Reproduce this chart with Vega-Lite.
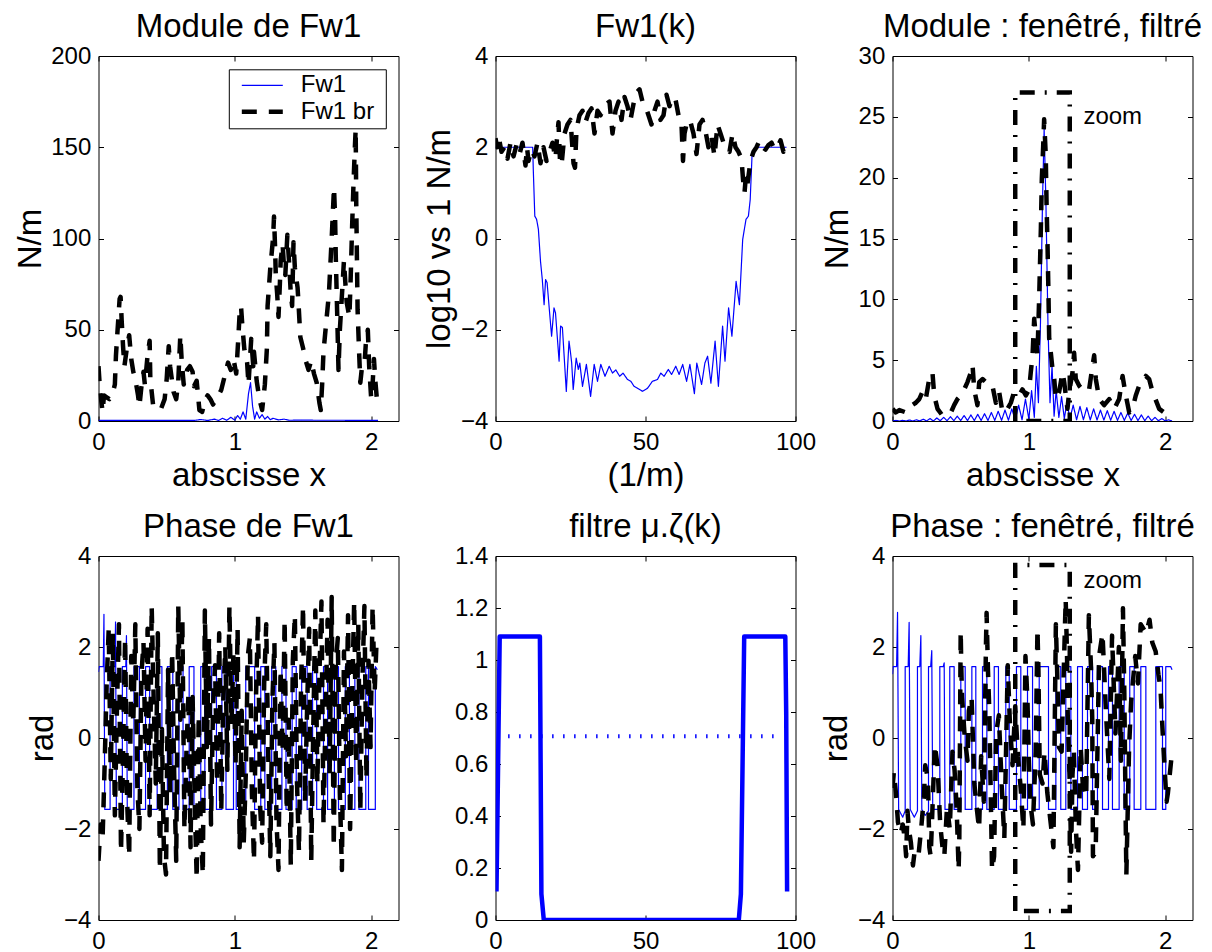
{
"$schema": "https://vega.github.io/schema/vega-lite/v6.json",
"background": "white",
"padding": {"left": 13.5, "top": 10, "right": 5, "bottom": 5},
"columns": 3,
"spacing": {"row": 135, "column": 97},
"bounds": "flush",
"config": {
 "font": "Liberation Sans",
 "view": {"stroke": "#000", "strokeWidth": 1},
 "title": {"font": "Liberation Sans", "fontSize": 33, "fontWeight": "normal", "color": "#000", "offset": 0.5, "baseline": "alphabetic", "anchor": "middle", "frame": "group"},
 "axis": {"domain": false, "grid": false, "ticks": true, "tickSize": -5, "tickColor": "#000", "tickWidth": 1, "labelFont": "Liberation Sans", "labelFontSize": 24, "labelColor": "#000", "labelOverlap": false, "labelFlush": false, "titleFont": "Liberation Sans", "titleFontSize": 33, "titleFontWeight": "normal", "titleColor": "#000"},
 "axisBottom": {"labelPadding": 14.5, "titlePadding": 5},
 "axisLeft": {"labelPadding": 12.7, "titlePadding": 3.5},
 "axisTop": {"labels": false},
 "axisRight": {"labels": false}
},
"datasets": {
 "p1": [
  {"s":"Fw1","x":0,"y":0.3},{"s":"Fw1","x":0.7,"y":0.3},{"s":"Fw1","x":0.75,"y":0.8},{"s":"Fw1","x":0.8,"y":0.3},{"s":"Fw1","x":0.85,"y":1},{"s":"Fw1","x":0.88,"y":0.3},{"s":"Fw1","x":0.91,"y":1.5},{"s":"Fw1","x":0.94,"y":0.4},{"s":"Fw1","x":0.97,"y":2},{"s":"Fw1","x":1.0,"y":0.5},{"s":"Fw1","x":1.02,"y":3},{"s":"Fw1","x":1.04,"y":1},{"s":"Fw1","x":1.06,"y":5},{"s":"Fw1","x":1.08,"y":1},{"s":"Fw1","x":1.1,"y":15},{"s":"Fw1","x":1.115,"y":21},{"s":"Fw1","x":1.13,"y":8},{"s":"Fw1","x":1.145,"y":1},{"s":"Fw1","x":1.16,"y":5},{"s":"Fw1","x":1.18,"y":1.5},{"s":"Fw1","x":1.2,"y":3.5},{"s":"Fw1","x":1.22,"y":1},{"s":"Fw1","x":1.24,"y":2.5},{"s":"Fw1","x":1.26,"y":0.7},{"s":"Fw1","x":1.28,"y":1.5},{"s":"Fw1","x":1.32,"y":0.6},{"s":"Fw1","x":1.36,"y":1},{"s":"Fw1","x":1.4,"y":0.4},{"s":"Fw1","x":1.5,"y":0.5},{"s":"Fw1","x":1.6,"y":0.4},{"s":"Fw1","x":1.8,"y":0.4},{"s":"Fw1","x":2.05,"y":0.3},
  {"s":"Fw1 br","x":0,"y":30},{"s":"Fw1 br","x":0.012,"y":16},{"s":"Fw1 br","x":0.03,"y":5},{"s":"Fw1 br","x":0.04,"y":14},{"s":"Fw1 br","x":0.06,"y":13},{"s":"Fw1 br","x":0.08,"y":12},{"s":"Fw1 br","x":0.1,"y":14},{"s":"Fw1 br","x":0.12,"y":20},{"s":"Fw1 br","x":0.128,"y":36},{"s":"Fw1 br","x":0.14,"y":50},{"s":"Fw1 br","x":0.155,"y":67},{"s":"Fw1 br","x":0.162,"y":68},{"s":"Fw1 br","x":0.17,"y":55},{"s":"Fw1 br","x":0.18,"y":41},{"s":"Fw1 br","x":0.19,"y":30},{"s":"Fw1 br","x":0.21,"y":41},{"s":"Fw1 br","x":0.225,"y":47},{"s":"Fw1 br","x":0.24,"y":34},{"s":"Fw1 br","x":0.255,"y":27},{"s":"Fw1 br","x":0.27,"y":23},{"s":"Fw1 br","x":0.29,"y":14},{"s":"Fw1 br","x":0.3,"y":8},{"s":"Fw1 br","x":0.315,"y":19},{"s":"Fw1 br","x":0.33,"y":27},{"s":"Fw1 br","x":0.34,"y":20},{"s":"Fw1 br","x":0.36,"y":36},{"s":"Fw1 br","x":0.375,"y":44},{"s":"Fw1 br","x":0.38,"y":23},{"s":"Fw1 br","x":0.4,"y":9},{"s":"Fw1 br","x":0.43,"y":6},{"s":"Fw1 br","x":0.46,"y":7},{"s":"Fw1 br","x":0.485,"y":12},{"s":"Fw1 br","x":0.5,"y":23},{"s":"Fw1 br","x":0.515,"y":41},{"s":"Fw1 br","x":0.525,"y":30},{"s":"Fw1 br","x":0.55,"y":16},{"s":"Fw1 br","x":0.57,"y":12},{"s":"Fw1 br","x":0.585,"y":22},{"s":"Fw1 br","x":0.6,"y":47},{"s":"Fw1 br","x":0.61,"y":33},{"s":"Fw1 br","x":0.625,"y":20},{"s":"Fw1 br","x":0.65,"y":28},{"s":"Fw1 br","x":0.67,"y":30},{"s":"Fw1 br","x":0.69,"y":27},{"s":"Fw1 br","x":0.7,"y":19},{"s":"Fw1 br","x":0.72,"y":22},{"s":"Fw1 br","x":0.74,"y":6},{"s":"Fw1 br","x":0.76,"y":5},{"s":"Fw1 br","x":0.785,"y":12},{"s":"Fw1 br","x":0.8,"y":14},{"s":"Fw1 br","x":0.82,"y":12},{"s":"Fw1 br","x":0.84,"y":9},{"s":"Fw1 br","x":0.86,"y":12},{"s":"Fw1 br","x":0.88,"y":14},{"s":"Fw1 br","x":0.9,"y":17},{"s":"Fw1 br","x":0.92,"y":23},{"s":"Fw1 br","x":0.95,"y":32},{"s":"Fw1 br","x":0.97,"y":28},{"s":"Fw1 br","x":0.99,"y":34},{"s":"Fw1 br","x":1.01,"y":26},{"s":"Fw1 br","x":1.025,"y":45},{"s":"Fw1 br","x":1.035,"y":59},{"s":"Fw1 br","x":1.045,"y":63},{"s":"Fw1 br","x":1.055,"y":52},{"s":"Fw1 br","x":1.07,"y":39},{"s":"Fw1 br","x":1.09,"y":32},{"s":"Fw1 br","x":1.1,"y":20},{"s":"Fw1 br","x":1.12,"y":45},{"s":"Fw1 br","x":1.135,"y":30},{"s":"Fw1 br","x":1.14,"y":38},{"s":"Fw1 br","x":1.16,"y":22},{"s":"Fw1 br","x":1.18,"y":12},{"s":"Fw1 br","x":1.2,"y":6},{"s":"Fw1 br","x":1.22,"y":20},{"s":"Fw1 br","x":1.235,"y":40},{"s":"Fw1 br","x":1.24,"y":63},{"s":"Fw1 br","x":1.26,"y":84},{"s":"Fw1 br","x":1.28,"y":100},{"s":"Fw1 br","x":1.287,"y":112},{"s":"Fw1 br","x":1.295,"y":95},{"s":"Fw1 br","x":1.3,"y":80},{"s":"Fw1 br","x":1.31,"y":70},{"s":"Fw1 br","x":1.32,"y":57},{"s":"Fw1 br","x":1.33,"y":75},{"s":"Fw1 br","x":1.336,"y":88},{"s":"Fw1 br","x":1.35,"y":97},{"s":"Fw1 br","x":1.36,"y":85},{"s":"Fw1 br","x":1.37,"y":80},{"s":"Fw1 br","x":1.385,"y":102},{"s":"Fw1 br","x":1.395,"y":90},{"s":"Fw1 br","x":1.4,"y":84},{"s":"Fw1 br","x":1.41,"y":70},{"s":"Fw1 br","x":1.42,"y":63},{"s":"Fw1 br","x":1.43,"y":98},{"s":"Fw1 br","x":1.44,"y":84},{"s":"Fw1 br","x":1.46,"y":73},{"s":"Fw1 br","x":1.47,"y":60},{"s":"Fw1 br","x":1.48,"y":46},{"s":"Fw1 br","x":1.5,"y":40},{"s":"Fw1 br","x":1.52,"y":33},{"s":"Fw1 br","x":1.54,"y":28},{"s":"Fw1 br","x":1.56,"y":33},{"s":"Fw1 br","x":1.58,"y":26},{"s":"Fw1 br","x":1.6,"y":21},{"s":"Fw1 br","x":1.62,"y":10},{"s":"Fw1 br","x":1.63,"y":6},{"s":"Fw1 br","x":1.64,"y":20},{"s":"Fw1 br","x":1.65,"y":38},{"s":"Fw1 br","x":1.67,"y":54},{"s":"Fw1 br","x":1.69,"y":70},{"s":"Fw1 br","x":1.71,"y":100},{"s":"Fw1 br","x":1.727,"y":128},{"s":"Fw1 br","x":1.735,"y":112},{"s":"Fw1 br","x":1.74,"y":90},{"s":"Fw1 br","x":1.75,"y":60},{"s":"Fw1 br","x":1.76,"y":28},{"s":"Fw1 br","x":1.77,"y":50},{"s":"Fw1 br","x":1.79,"y":75},{"s":"Fw1 br","x":1.8,"y":88},{"s":"Fw1 br","x":1.81,"y":76},{"s":"Fw1 br","x":1.82,"y":65},{"s":"Fw1 br","x":1.84,"y":57},{"s":"Fw1 br","x":1.85,"y":80},{"s":"Fw1 br","x":1.86,"y":107},{"s":"Fw1 br","x":1.87,"y":130},{"s":"Fw1 br","x":1.88,"y":150},{"s":"Fw1 br","x":1.886,"y":160},{"s":"Fw1 br","x":1.89,"y":120},{"s":"Fw1 br","x":1.895,"y":90},{"s":"Fw1 br","x":1.9,"y":61},{"s":"Fw1 br","x":1.91,"y":40},{"s":"Fw1 br","x":1.92,"y":21},{"s":"Fw1 br","x":1.93,"y":28},{"s":"Fw1 br","x":1.95,"y":30},{"s":"Fw1 br","x":1.96,"y":42},{"s":"Fw1 br","x":1.975,"y":50},{"s":"Fw1 br","x":1.985,"y":30},{"s":"Fw1 br","x":2.0,"y":12},{"s":"Fw1 br","x":2.01,"y":20},{"s":"Fw1 br","x":2.02,"y":34},{"s":"Fw1 br","x":2.03,"y":22},{"s":"Fw1 br","x":2.045,"y":9}
 ],
 "p2": [
  {"s":"Fw1","x":0,"y":2.0},{"s":"Fw1","x":12.4,"y":2.0},{"s":"Fw1","x":12.6,"y":1.5},{"s":"Fw1","x":13.1,"y":0.49},{"s":"Fw1","x":13.7,"y":0.42},{"s":"Fw1","x":14.3,"y":0.2},{"s":"Fw1","x":15.0,"y":-0.5},{"s":"Fw1","x":15.6,"y":-0.9},{"s":"Fw1","x":16.2,"y":-1.45},{"s":"Fw1","x":16.7,"y":-0.9},{"s":"Fw1","x":17.2,"y":-0.97},{"s":"Fw1","x":18.0,"y":-1.6},{"s":"Fw1","x":18.7,"y":-2.14},{"s":"Fw1","x":19.5,"y":-1.52},{"s":"Fw1","x":20.0,"y":-1.63},{"s":"Fw1","x":21.2,"y":-2.69},{"s":"Fw1","x":21.7,"y":-1.92},{"s":"Fw1","x":22.3,"y":-1.95},{"s":"Fw1","x":23.6,"y":-3.35},{"s":"Fw1","x":24.5,"y":-2.25},{"s":"Fw1","x":25.0,"y":-2.5},{"s":"Fw1","x":25.4,"y":-2.73},{"s":"Fw1","x":25.9,"y":-3.31},{"s":"Fw1","x":26.9,"y":-2.62},{"s":"Fw1","x":27.6,"y":-2.87},{"s":"Fw1","x":28.1,"y":-2.73},{"s":"Fw1","x":29.0,"y":-3.24},{"s":"Fw1","x":30.3,"y":-2.76},{"s":"Fw1","x":31.7,"y":-3.46},{"s":"Fw1","x":32.9,"y":-2.76},{"s":"Fw1","x":34.0,"y":-3.13},{"s":"Fw1","x":35.1,"y":-2.76},{"s":"Fw1","x":36.5,"y":-3.02},{"s":"Fw1","x":37.9,"y":-2.8},{"s":"Fw1","x":39.0,"y":-2.95},{"s":"Fw1","x":40.1,"y":-2.88},{"s":"Fw1","x":41.4,"y":-3.02},{"s":"Fw1","x":42.5,"y":-2.95},{"s":"Fw1","x":44.0,"y":-3.09},{"s":"Fw1","x":45.1,"y":-3.13},{"s":"Fw1","x":46.2,"y":-3.24},{"s":"Fw1","x":47.3,"y":-3.28},{"s":"Fw1","x":49.0,"y":-3.35},{"s":"Fw1","x":50.7,"y":-3.28},{"s":"Fw1","x":52.3,"y":-3.13},{"s":"Fw1","x":54.0,"y":-3.09},{"s":"Fw1","x":55.1,"y":-2.95},{"s":"Fw1","x":56.2,"y":-3.02},{"s":"Fw1","x":57.6,"y":-2.87},{"s":"Fw1","x":58.7,"y":-2.98},{"s":"Fw1","x":60.1,"y":-2.8},{"s":"Fw1","x":61.2,"y":-2.98},{"s":"Fw1","x":62.4,"y":-2.76},{"s":"Fw1","x":63.7,"y":-3.13},{"s":"Fw1","x":64.8,"y":-2.76},{"s":"Fw1","x":66.3,"y":-3.4},{"s":"Fw1","x":67.1,"y":-2.73},{"s":"Fw1","x":68.7,"y":-3.2},{"s":"Fw1","x":69.8,"y":-2.73},{"s":"Fw1","x":70.7,"y":-2.58},{"s":"Fw1","x":71.8,"y":-3.17},{"s":"Fw1","x":73.2,"y":-2.25},{"s":"Fw1","x":74.3,"y":-3.24},{"s":"Fw1","x":75.7,"y":-1.92},{"s":"Fw1","x":76.5,"y":-2.69},{"s":"Fw1","x":77.7,"y":-1.52},{"s":"Fw1","x":78.8,"y":-2.14},{"s":"Fw1","x":80.2,"y":-0.94},{"s":"Fw1","x":81.3,"y":-1.45},{"s":"Fw1","x":82.4,"y":-0.02},{"s":"Fw1","x":83.5,"y":0.42},{"s":"Fw1","x":84.3,"y":0.49},{"s":"Fw1","x":84.9,"y":0.85},{"s":"Fw1","x":85.5,"y":1.8},{"s":"Fw1","x":86.5,"y":2.0},{"s":"Fw1","x":97,"y":2.0},
  {"s":"Fw1 br","x":0,"y":2.2},{"s":"Fw1 br","x":0.5,"y":2.0},{"s":"Fw1 br","x":1,"y":2.25},{"s":"Fw1 br","x":2,"y":1.9},{"s":"Fw1 br","x":3,"y":2.0},{"s":"Fw1 br","x":4,"y":1.75},{"s":"Fw1 br","x":5,"y":2.1},{"s":"Fw1 br","x":6,"y":1.8},{"s":"Fw1 br","x":7,"y":2.05},{"s":"Fw1 br","x":8,"y":1.85},{"s":"Fw1 br","x":9,"y":2.1},{"s":"Fw1 br","x":10,"y":1.6},{"s":"Fw1 br","x":10.5,"y":2.0},{"s":"Fw1 br","x":11,"y":1.7},{"s":"Fw1 br","x":12,"y":1.95},{"s":"Fw1 br","x":13,"y":1.8},{"s":"Fw1 br","x":14,"y":2.1},{"s":"Fw1 br","x":15,"y":1.65},{"s":"Fw1 br","x":16,"y":2.0},{"s":"Fw1 br","x":17,"y":1.7},{"s":"Fw1 br","x":18,"y":1.9},{"s":"Fw1 br","x":19,"y":2.1},{"s":"Fw1 br","x":20,"y":1.75},{"s":"Fw1 br","x":20.5,"y":2.2},{"s":"Fw1 br","x":21,"y":2.55},{"s":"Fw1 br","x":21.5,"y":1.7},{"s":"Fw1 br","x":22,"y":1.6},{"s":"Fw1 br","x":23,"y":2.3},{"s":"Fw1 br","x":24,"y":2.5},{"s":"Fw1 br","x":25,"y":2.6},{"s":"Fw1 br","x":26,"y":1.65},{"s":"Fw1 br","x":26.5,"y":1.55},{"s":"Fw1 br","x":27,"y":2.4},{"s":"Fw1 br","x":28,"y":2.7},{"s":"Fw1 br","x":29,"y":2.8},{"s":"Fw1 br","x":30,"y":2.55},{"s":"Fw1 br","x":31,"y":2.75},{"s":"Fw1 br","x":32,"y":2.85},{"s":"Fw1 br","x":33,"y":2.3},{"s":"Fw1 br","x":34,"y":2.8},{"s":"Fw1 br","x":35,"y":2.7},{"s":"Fw1 br","x":36,"y":2.85},{"s":"Fw1 br","x":37,"y":2.95},{"s":"Fw1 br","x":38,"y":3.0},{"s":"Fw1 br","x":39,"y":2.3},{"s":"Fw1 br","x":40,"y":2.8},{"s":"Fw1 br","x":41,"y":3.0},{"s":"Fw1 br","x":42,"y":2.6},{"s":"Fw1 br","x":43,"y":3.1},{"s":"Fw1 br","x":44,"y":2.9},{"s":"Fw1 br","x":45,"y":2.6},{"s":"Fw1 br","x":46,"y":2.95},{"s":"Fw1 br","x":47,"y":3.2},{"s":"Fw1 br","x":48,"y":3.27},{"s":"Fw1 br","x":49,"y":3.0},{"s":"Fw1 br","x":50,"y":2.9},{"s":"Fw1 br","x":51,"y":2.7},{"s":"Fw1 br","x":52,"y":2.5},{"s":"Fw1 br","x":53,"y":2.8},{"s":"Fw1 br","x":54,"y":3.0},{"s":"Fw1 br","x":55,"y":2.6},{"s":"Fw1 br","x":56,"y":2.7},{"s":"Fw1 br","x":57,"y":3.15},{"s":"Fw1 br","x":58,"y":2.9},{"s":"Fw1 br","x":59,"y":3.1},{"s":"Fw1 br","x":60,"y":3.05},{"s":"Fw1 br","x":61,"y":2.7},{"s":"Fw1 br","x":62,"y":2.5},{"s":"Fw1 br","x":62.5,"y":1.7},{"s":"Fw1 br","x":63,"y":2.3},{"s":"Fw1 br","x":64,"y":2.6},{"s":"Fw1 br","x":65,"y":2.55},{"s":"Fw1 br","x":66,"y":2.3},{"s":"Fw1 br","x":67,"y":1.85},{"s":"Fw1 br","x":68,"y":2.5},{"s":"Fw1 br","x":69,"y":2.6},{"s":"Fw1 br","x":70,"y":2.35},{"s":"Fw1 br","x":71,"y":2.0},{"s":"Fw1 br","x":72,"y":2.25},{"s":"Fw1 br","x":73,"y":1.8},{"s":"Fw1 br","x":74,"y":2.5},{"s":"Fw1 br","x":75,"y":2.3},{"s":"Fw1 br","x":76,"y":2.1},{"s":"Fw1 br","x":77,"y":2.0},{"s":"Fw1 br","x":78,"y":1.9},{"s":"Fw1 br","x":79,"y":2.3},{"s":"Fw1 br","x":80,"y":2.0},{"s":"Fw1 br","x":81,"y":1.9},{"s":"Fw1 br","x":82,"y":1.75},{"s":"Fw1 br","x":82.5,"y":1.3},{"s":"Fw1 br","x":83,"y":1.0},{"s":"Fw1 br","x":83.5,"y":1.4},{"s":"Fw1 br","x":84,"y":1.2},{"s":"Fw1 br","x":85,"y":1.7},{"s":"Fw1 br","x":86,"y":1.9},{"s":"Fw1 br","x":87,"y":2.0},{"s":"Fw1 br","x":88,"y":2.15},{"s":"Fw1 br","x":89,"y":2.0},{"s":"Fw1 br","x":90,"y":1.95},{"s":"Fw1 br","x":91,"y":2.05},{"s":"Fw1 br","x":92,"y":2.1},{"s":"Fw1 br","x":93,"y":1.95},{"s":"Fw1 br","x":94,"y":2.0},{"s":"Fw1 br","x":95,"y":2.15},{"s":"Fw1 br","x":96,"y":1.9},{"s":"Fw1 br","x":97,"y":2.05}
 ],
 "p3": [
  {"s":"Fw1","x":0,"y":0},{"s":"Fw1","x":0.025,"y":0.05},{"s":"Fw1","x":0.05,"y":0},{"s":"Fw1","x":0.075,"y":0.05},{"s":"Fw1","x":0.1,"y":0},{"s":"Fw1","x":0.125,"y":0.08},{"s":"Fw1","x":0.15,"y":0},{"s":"Fw1","x":0.175,"y":0.1},{"s":"Fw1","x":0.2,"y":0},{"s":"Fw1","x":0.225,"y":0.15},{"s":"Fw1","x":0.25,"y":0},{"s":"Fw1","x":0.275,"y":0.2},{"s":"Fw1","x":0.3,"y":0},{"s":"Fw1","x":0.325,"y":0.25},{"s":"Fw1","x":0.35,"y":0.02},{"s":"Fw1","x":0.375,"y":0.3},{"s":"Fw1","x":0.4,"y":0.02},{"s":"Fw1","x":0.425,"y":0.35},{"s":"Fw1","x":0.45,"y":0.02},{"s":"Fw1","x":0.475,"y":0.4},{"s":"Fw1","x":0.5,"y":0.03},{"s":"Fw1","x":0.525,"y":0.45},{"s":"Fw1","x":0.55,"y":0.03},{"s":"Fw1","x":0.575,"y":0.5},{"s":"Fw1","x":0.6,"y":0.03},{"s":"Fw1","x":0.625,"y":0.55},{"s":"Fw1","x":0.65,"y":0.04},{"s":"Fw1","x":0.675,"y":0.6},{"s":"Fw1","x":0.7,"y":0.04},{"s":"Fw1","x":0.725,"y":0.7},{"s":"Fw1","x":0.75,"y":0.05},{"s":"Fw1","x":0.775,"y":0.8},{"s":"Fw1","x":0.8,"y":0.05},{"s":"Fw1","x":0.825,"y":0.9},{"s":"Fw1","x":0.85,"y":0.06},{"s":"Fw1","x":0.875,"y":1.0},{"s":"Fw1","x":0.9,"y":0.07},{"s":"Fw1","x":0.925,"y":1.3},{"s":"Fw1","x":0.95,"y":0.1},{"s":"Fw1","x":0.975,"y":1.8},{"s":"Fw1","x":1.0,"y":0.15},{"s":"Fw1","x":1.02,"y":2.5},{"s":"Fw1","x":1.04,"y":0.3},{"s":"Fw1","x":1.055,"y":4.5},{"s":"Fw1","x":1.07,"y":1.5},{"s":"Fw1","x":1.085,"y":8},{"s":"Fw1","x":1.1,"y":18},{"s":"Fw1","x":1.112,"y":24},{"s":"Fw1","x":1.125,"y":18},{"s":"Fw1","x":1.14,"y":8},{"s":"Fw1","x":1.155,"y":1.5},{"s":"Fw1","x":1.17,"y":4.5},{"s":"Fw1","x":1.185,"y":0.4},{"s":"Fw1","x":1.2,"y":2.5},{"s":"Fw1","x":1.22,"y":0.3},{"s":"Fw1","x":1.24,"y":2.0},{"s":"Fw1","x":1.26,"y":0.2},{"s":"Fw1","x":1.28,"y":1.6},{"s":"Fw1","x":1.3,"y":0.15},{"s":"Fw1","x":1.325,"y":1.3},{"s":"Fw1","x":1.35,"y":0.1},{"s":"Fw1","x":1.375,"y":1.2},{"s":"Fw1","x":1.4,"y":0.1},{"s":"Fw1","x":1.425,"y":1.1},{"s":"Fw1","x":1.45,"y":0.08},{"s":"Fw1","x":1.475,"y":1.0},{"s":"Fw1","x":1.5,"y":0.08},{"s":"Fw1","x":1.525,"y":0.9},{"s":"Fw1","x":1.55,"y":0.07},{"s":"Fw1","x":1.575,"y":0.85},{"s":"Fw1","x":1.6,"y":0.06},{"s":"Fw1","x":1.625,"y":0.8},{"s":"Fw1","x":1.65,"y":0.05},{"s":"Fw1","x":1.675,"y":0.7},{"s":"Fw1","x":1.7,"y":0.05},{"s":"Fw1","x":1.725,"y":0.65},{"s":"Fw1","x":1.75,"y":0.04},{"s":"Fw1","x":1.775,"y":0.55},{"s":"Fw1","x":1.8,"y":0.03},{"s":"Fw1","x":1.825,"y":0.5},{"s":"Fw1","x":1.85,"y":0.03},{"s":"Fw1","x":1.875,"y":0.4},{"s":"Fw1","x":1.9,"y":0.02},{"s":"Fw1","x":1.925,"y":0.3},{"s":"Fw1","x":1.95,"y":0.02},{"s":"Fw1","x":1.975,"y":0.2},{"s":"Fw1","x":2.0,"y":0.01},{"s":"Fw1","x":2.025,"y":0.1},{"s":"Fw1","x":2.05,"y":0},
  {"s":"Fw1 br","x":0,"y":1.0},{"s":"Fw1 br","x":0.024,"y":0.7},{"s":"Fw1 br","x":0.05,"y":0.9},{"s":"Fw1 br","x":0.1,"y":0.7},{"s":"Fw1 br","x":0.13,"y":1.2},{"s":"Fw1 br","x":0.171,"y":1.5},{"s":"Fw1 br","x":0.196,"y":1.8},{"s":"Fw1 br","x":0.22,"y":2.4},{"s":"Fw1 br","x":0.244,"y":1.8},{"s":"Fw1 br","x":0.269,"y":3.45},{"s":"Fw1 br","x":0.293,"y":4.0},{"s":"Fw1 br","x":0.306,"y":2.1},{"s":"Fw1 br","x":0.33,"y":1.0},{"s":"Fw1 br","x":0.367,"y":0.44},{"s":"Fw1 br","x":0.4,"y":0.6},{"s":"Fw1 br","x":0.428,"y":0.7},{"s":"Fw1 br","x":0.452,"y":1.3},{"s":"Fw1 br","x":0.476,"y":1.8},{"s":"Fw1 br","x":0.501,"y":2.1},{"s":"Fw1 br","x":0.526,"y":2.6},{"s":"Fw1 br","x":0.55,"y":3.2},{"s":"Fw1 br","x":0.575,"y":4.0},{"s":"Fw1 br","x":0.587,"y":4.6},{"s":"Fw1 br","x":0.599,"y":2.6},{"s":"Fw1 br","x":0.623,"y":1.3},{"s":"Fw1 br","x":0.636,"y":3.2},{"s":"Fw1 br","x":0.66,"y":3.45},{"s":"Fw1 br","x":0.685,"y":3.2},{"s":"Fw1 br","x":0.709,"y":3.2},{"s":"Fw1 br","x":0.733,"y":2.9},{"s":"Fw1 br","x":0.758,"y":1.5},{"s":"Fw1 br","x":0.782,"y":2.4},{"s":"Fw1 br","x":0.807,"y":0.7},{"s":"Fw1 br","x":0.843,"y":1.0},{"s":"Fw1 br","x":0.868,"y":1.5},{"s":"Fw1 br","x":0.892,"y":2.4},{"s":"Fw1 br","x":0.929,"y":2.1},{"s":"Fw1 br","x":0.953,"y":2.6},{"s":"Fw1 br","x":0.978,"y":2.1},{"s":"Fw1 br","x":1.002,"y":2.6},{"s":"Fw1 br","x":1.014,"y":4.0},{"s":"Fw1 br","x":1.027,"y":5.4},{"s":"Fw1 br","x":1.039,"y":8.4},{"s":"Fw1 br","x":1.051,"y":7.0},{"s":"Fw1 br","x":1.063,"y":5.4},{"s":"Fw1 br","x":1.076,"y":10.3},{"s":"Fw1 br","x":1.088,"y":15.8},{"s":"Fw1 br","x":1.095,"y":19.9},{"s":"Fw1 br","x":1.105,"y":22.6},{"s":"Fw1 br","x":1.112,"y":24.8},{"s":"Fw1 br","x":1.124,"y":21.8},{"s":"Fw1 br","x":1.13,"y":17.7},{"s":"Fw1 br","x":1.137,"y":14.4},{"s":"Fw1 br","x":1.144,"y":10.3},{"s":"Fw1 br","x":1.149,"y":6.8},{"s":"Fw1 br","x":1.161,"y":5.6},{"s":"Fw1 br","x":1.173,"y":4.3},{"s":"Fw1 br","x":1.186,"y":3.45},{"s":"Fw1 br","x":1.198,"y":1.8},{"s":"Fw1 br","x":1.222,"y":2.4},{"s":"Fw1 br","x":1.247,"y":4.0},{"s":"Fw1 br","x":1.259,"y":3.2},{"s":"Fw1 br","x":1.283,"y":1.0},{"s":"Fw1 br","x":1.296,"y":2.4},{"s":"Fw1 br","x":1.32,"y":4.0},{"s":"Fw1 br","x":1.332,"y":5.6},{"s":"Fw1 br","x":1.344,"y":3.45},{"s":"Fw1 br","x":1.369,"y":2.9},{"s":"Fw1 br","x":1.406,"y":2.4},{"s":"Fw1 br","x":1.442,"y":2.6},{"s":"Fw1 br","x":1.467,"y":4.55},{"s":"Fw1 br","x":1.479,"y":5.4},{"s":"Fw1 br","x":1.491,"y":3.45},{"s":"Fw1 br","x":1.516,"y":1.8},{"s":"Fw1 br","x":1.552,"y":1.3},{"s":"Fw1 br","x":1.589,"y":1.8},{"s":"Fw1 br","x":1.626,"y":1.0},{"s":"Fw1 br","x":1.662,"y":1.8},{"s":"Fw1 br","x":1.687,"y":3.7},{"s":"Fw1 br","x":1.711,"y":2.1},{"s":"Fw1 br","x":1.736,"y":0.7},{"s":"Fw1 br","x":1.76,"y":1.0},{"s":"Fw1 br","x":1.784,"y":2.1},{"s":"Fw1 br","x":1.809,"y":2.9},{"s":"Fw1 br","x":1.858,"y":3.7},{"s":"Fw1 br","x":1.882,"y":3.45},{"s":"Fw1 br","x":1.907,"y":2.4},{"s":"Fw1 br","x":1.956,"y":1.0},{"s":"Fw1 br","x":2.004,"y":0.6}
 ],
 "p4": [
  {"s":"Fw1","x":0,"y":1.45},{"s":"Fw1","x":0.005,"y":1.57},{"s":"Fw1","x":0.035,"y":1.57},{"s":"Fw1","x":0.04,"y":2.72},{"s":"Fw1","x":0.046,"y":-1.57},
  {"s":"Fw1","x":0.085,"y":-1.57},{"s":"Fw1","x":0.085,"y":1.57},{"s":"Fw1","x":0.12,"y":1.57},{"s":"Fw1","x":0.125,"y":2.55},{"s":"Fw1","x":0.131,"y":-1.57},
  {"s":"Fw1","x":0.175,"y":-1.57},{"s":"Fw1","x":0.175,"y":1.57},{"s":"Fw1","x":0.2,"y":1.57},{"s":"Fw1","x":0.205,"y":2.25},{"s":"Fw1","x":0.211,"y":-1.57},
  {"s":"Fw1","x":0.26,"y":-1.57},{"s":"Fw1","x":0.26,"y":1.57},{"s":"Fw1","x":0.3,"y":1.57},{"s":"Fw1","x":0.3,"y":-1.57},
  {"s":"Fw1","x":0.345,"y":-1.57},{"s":"Fw1","x":0.345,"y":1.57},{"s":"Fw1","x":0.375,"y":1.57},{"s":"Fw1","x":0.375,"y":-1.57},
  {"s":"Fw1","x":0.43,"y":-1.57},{"s":"Fw1","x":0.43,"y":1.57},{"s":"Fw1","x":0.465,"y":1.57},{"s":"Fw1","x":0.465,"y":-1.57},
  {"s":"Fw1","x":0.505,"y":-1.57},{"s":"Fw1","x":0.505,"y":1.57},{"s":"Fw1","x":0.545,"y":1.57},{"s":"Fw1","x":0.545,"y":-1.57},
  {"s":"Fw1","x":0.59,"y":-1.57},{"s":"Fw1","x":0.59,"y":1.57},{"s":"Fw1","x":0.62,"y":1.57},{"s":"Fw1","x":0.62,"y":-1.57},
  {"s":"Fw1","x":0.665,"y":-1.57},{"s":"Fw1","x":0.665,"y":1.57},{"s":"Fw1","x":0.7,"y":1.57},{"s":"Fw1","x":0.7,"y":-1.57},
  {"s":"Fw1","x":0.75,"y":-1.57},{"s":"Fw1","x":0.75,"y":1.57},{"s":"Fw1","x":0.78,"y":1.57},{"s":"Fw1","x":0.78,"y":-1.57},
  {"s":"Fw1","x":0.83,"y":-1.57},{"s":"Fw1","x":0.83,"y":1.57},{"s":"Fw1","x":0.865,"y":1.57},{"s":"Fw1","x":0.865,"y":-1.57},
  {"s":"Fw1","x":0.905,"y":-1.57},{"s":"Fw1","x":0.905,"y":1.57},{"s":"Fw1","x":0.935,"y":1.57},{"s":"Fw1","x":0.935,"y":-1.57},
  {"s":"Fw1","x":0.99,"y":-1.57},{"s":"Fw1","x":0.99,"y":1.57},{"s":"Fw1","x":1.01,"y":1.57},{"s":"Fw1","x":1.01,"y":-1.57},
  {"s":"Fw1","x":1.08,"y":-1.57},{"s":"Fw1","x":1.08,"y":1.57},{"s":"Fw1","x":1.145,"y":1.57},{"s":"Fw1","x":1.145,"y":-1.57},
  {"s":"Fw1","x":1.19,"y":-1.57},{"s":"Fw1","x":1.19,"y":1.57},{"s":"Fw1","x":1.22,"y":1.57},{"s":"Fw1","x":1.22,"y":-1.57},
  {"s":"Fw1","x":1.27,"y":-1.57},{"s":"Fw1","x":1.27,"y":1.57},{"s":"Fw1","x":1.3,"y":1.57},{"s":"Fw1","x":1.3,"y":-1.57},
  {"s":"Fw1","x":1.345,"y":-1.57},{"s":"Fw1","x":1.345,"y":1.57},{"s":"Fw1","x":1.375,"y":1.57},{"s":"Fw1","x":1.375,"y":-1.57},
  {"s":"Fw1","x":1.42,"y":-1.57},{"s":"Fw1","x":1.42,"y":1.57},{"s":"Fw1","x":1.45,"y":1.57},{"s":"Fw1","x":1.45,"y":-1.57},
  {"s":"Fw1","x":1.49,"y":-1.57},{"s":"Fw1","x":1.49,"y":1.57},{"s":"Fw1","x":1.53,"y":1.57},{"s":"Fw1","x":1.53,"y":-1.57},
  {"s":"Fw1","x":1.57,"y":-1.57},{"s":"Fw1","x":1.57,"y":1.57},{"s":"Fw1","x":1.6,"y":1.57},{"s":"Fw1","x":1.6,"y":-1.57},
  {"s":"Fw1","x":1.65,"y":-1.57},{"s":"Fw1","x":1.65,"y":1.57},{"s":"Fw1","x":1.68,"y":1.57},{"s":"Fw1","x":1.68,"y":-1.57},
  {"s":"Fw1","x":1.73,"y":-1.57},{"s":"Fw1","x":1.73,"y":1.57},{"s":"Fw1","x":1.76,"y":1.57},{"s":"Fw1","x":1.76,"y":-1.57},
  {"s":"Fw1","x":1.81,"y":-1.57},{"s":"Fw1","x":1.81,"y":1.57},{"s":"Fw1","x":1.84,"y":1.57},{"s":"Fw1","x":1.84,"y":-1.57},
  {"s":"Fw1","x":1.88,"y":-1.57},{"s":"Fw1","x":1.88,"y":1.57},{"s":"Fw1","x":1.91,"y":1.57},{"s":"Fw1","x":1.91,"y":-1.57},
  {"s":"Fw1","x":1.96,"y":-1.57},{"s":"Fw1","x":1.96,"y":1.57},{"s":"Fw1","x":1.98,"y":1.57},{"s":"Fw1","x":1.98,"y":-1.57},
  {"s":"Fw1","x":2.03,"y":-1.57},{"s":"Fw1","x":2.03,"y":1.57},{"s":"Fw1","x":2.045,"y":1.5},
  {"s":"Fw1 br","x":0,"y":-2.7},{"s":"Fw1 br","x":0.015,"y":-1.9},{"s":"Fw1 br","x":0.03,"y":-2.2},{"s":"Fw1 br","x":0.045,"y":-0.6},{"s":"Fw1 br","x":0.06,"y":1.2},{"s":"Fw1 br","x":0.075,"y":2.4},{"s":"Fw1 br","x":0.09,"y":-0.9},{"s":"Fw1 br","x":0.105,"y":2.3},{"s":"Fw1 br","x":0.12,"y":-1.7},{"s":"Fw1 br","x":0.135,"y":0.6},{"s":"Fw1 br","x":0.15,"y":2.5},{"s":"Fw1 br","x":0.165,"y":-2.5},{"s":"Fw1 br","x":0.18,"y":-0.4},{"s":"Fw1 br","x":0.195,"y":2.2},{"s":"Fw1 br","x":0.21,"y":-1.4},{"s":"Fw1 br","x":0.225,"y":-2.6},{"s":"Fw1 br","x":0.24,"y":1.8},{"s":"Fw1 br","x":0.255,"y":0.3},{"s":"Fw1 br","x":0.27,"y":2.5},{"s":"Fw1 br","x":0.285,"y":-1.1},{"s":"Fw1 br","x":0.3,"y":-2.0},{"s":"Fw1 br","x":0.315,"y":1.4},{"s":"Fw1 br","x":0.33,"y":2.1},{"s":"Fw1 br","x":0.345,"y":-0.5},{"s":"Fw1 br","x":0.36,"y":2.4},{"s":"Fw1 br","x":0.375,"y":-1.7},{"s":"Fw1 br","x":0.39,"y":2.9},{"s":"Fw1 br","x":0.405,"y":0.8},{"s":"Fw1 br","x":0.42,"y":-1.0},{"s":"Fw1 br","x":0.435,"y":2.3},{"s":"Fw1 br","x":0.45,"y":-2.9},{"s":"Fw1 br","x":0.465,"y":0.2},{"s":"Fw1 br","x":0.48,"y":-2.6},{"s":"Fw1 br","x":0.495,"y":-3.0},{"s":"Fw1 br","x":0.51,"y":1.5},{"s":"Fw1 br","x":0.525,"y":-1.2},{"s":"Fw1 br","x":0.54,"y":1.9},{"s":"Fw1 br","x":0.555,"y":-0.8},{"s":"Fw1 br","x":0.57,"y":-2.7},{"s":"Fw1 br","x":0.585,"y":2.9},{"s":"Fw1 br","x":0.6,"y":0.4},{"s":"Fw1 br","x":0.615,"y":2.6},{"s":"Fw1 br","x":0.63,"y":-2.0},{"s":"Fw1 br","x":0.645,"y":-0.3},{"s":"Fw1 br","x":0.66,"y":1.0},{"s":"Fw1 br","x":0.675,"y":-2.4},{"s":"Fw1 br","x":0.69,"y":0.9},{"s":"Fw1 br","x":0.705,"y":-1.3},{"s":"Fw1 br","x":0.72,"y":-3.1},{"s":"Fw1 br","x":0.735,"y":0.5},{"s":"Fw1 br","x":0.75,"y":-2.0},{"s":"Fw1 br","x":0.765,"y":-3.0},{"s":"Fw1 br","x":0.78,"y":2.8},{"s":"Fw1 br","x":0.795,"y":-0.2},{"s":"Fw1 br","x":0.81,"y":2.2},{"s":"Fw1 br","x":0.825,"y":-1.9},{"s":"Fw1 br","x":0.84,"y":0.7},{"s":"Fw1 br","x":0.855,"y":1.6},{"s":"Fw1 br","x":0.87,"y":-1.0},{"s":"Fw1 br","x":0.885,"y":2.3},{"s":"Fw1 br","x":0.9,"y":-1.6},{"s":"Fw1 br","x":0.915,"y":0.8},{"s":"Fw1 br","x":0.93,"y":2.0},{"s":"Fw1 br","x":0.945,"y":-0.7},{"s":"Fw1 br","x":0.96,"y":2.9},{"s":"Fw1 br","x":0.975,"y":0.3},{"s":"Fw1 br","x":0.99,"y":1.9},{"s":"Fw1 br","x":1.005,"y":-0.6},{"s":"Fw1 br","x":1.02,"y":2.4},{"s":"Fw1 br","x":1.035,"y":-2.4},{"s":"Fw1 br","x":1.05,"y":0.6},{"s":"Fw1 br","x":1.065,"y":-2.3},{"s":"Fw1 br","x":1.08,"y":-0.8},{"s":"Fw1 br","x":1.095,"y":1.8},{"s":"Fw1 br","x":1.11,"y":2.2},{"s":"Fw1 br","x":1.125,"y":-1.2},{"s":"Fw1 br","x":1.14,"y":-2.7},{"s":"Fw1 br","x":1.155,"y":0.9},{"s":"Fw1 br","x":1.17,"y":2.7},{"s":"Fw1 br","x":1.185,"y":-1.5},{"s":"Fw1 br","x":1.2,"y":-2.3},{"s":"Fw1 br","x":1.215,"y":1.2},{"s":"Fw1 br","x":1.23,"y":2.5},{"s":"Fw1 br","x":1.245,"y":-0.4},{"s":"Fw1 br","x":1.26,"y":-2.6},{"s":"Fw1 br","x":1.275,"y":0.8},{"s":"Fw1 br","x":1.29,"y":2.1},{"s":"Fw1 br","x":1.305,"y":-1.8},{"s":"Fw1 br","x":1.32,"y":-2.9},{"s":"Fw1 br","x":1.335,"y":1.5},{"s":"Fw1 br","x":1.35,"y":-0.3},{"s":"Fw1 br","x":1.365,"y":2.6},{"s":"Fw1 br","x":1.38,"y":-1.6},{"s":"Fw1 br","x":1.395,"y":0.4},{"s":"Fw1 br","x":1.41,"y":-2.8},{"s":"Fw1 br","x":1.425,"y":1.7},{"s":"Fw1 br","x":1.44,"y":2.7},{"s":"Fw1 br","x":1.455,"y":-0.9},{"s":"Fw1 br","x":1.47,"y":-2.5},{"s":"Fw1 br","x":1.485,"y":1.1},{"s":"Fw1 br","x":1.5,"y":2.9},{"s":"Fw1 br","x":1.515,"y":-1.4},{"s":"Fw1 br","x":1.53,"y":0.7},{"s":"Fw1 br","x":1.545,"y":2.4},{"s":"Fw1 br","x":1.56,"y":-2.7},{"s":"Fw1 br","x":1.575,"y":0.2},{"s":"Fw1 br","x":1.59,"y":2.8},{"s":"Fw1 br","x":1.605,"y":-1.0},{"s":"Fw1 br","x":1.62,"y":1.4},{"s":"Fw1 br","x":1.635,"y":3.0},{"s":"Fw1 br","x":1.65,"y":-1.9},{"s":"Fw1 br","x":1.665,"y":0.5},{"s":"Fw1 br","x":1.68,"y":2.6},{"s":"Fw1 br","x":1.695,"y":-0.8},{"s":"Fw1 br","x":1.71,"y":3.1},{"s":"Fw1 br","x":1.725,"y":-2.4},{"s":"Fw1 br","x":1.74,"y":1.6},{"s":"Fw1 br","x":1.755,"y":2.2},{"s":"Fw1 br","x":1.77,"y":-1.2},{"s":"Fw1 br","x":1.785,"y":-2.9},{"s":"Fw1 br","x":1.8,"y":1.9},{"s":"Fw1 br","x":1.815,"y":-0.4},{"s":"Fw1 br","x":1.83,"y":2.7},{"s":"Fw1 br","x":1.845,"y":-2.0},{"s":"Fw1 br","x":1.86,"y":0.9},{"s":"Fw1 br","x":1.875,"y":3.0},{"s":"Fw1 br","x":1.89,"y":-0.6},{"s":"Fw1 br","x":1.905,"y":2.5},{"s":"Fw1 br","x":1.92,"y":-1.6},{"s":"Fw1 br","x":1.935,"y":1.2},{"s":"Fw1 br","x":1.95,"y":2.9},{"s":"Fw1 br","x":1.965,"y":-0.9},{"s":"Fw1 br","x":1.98,"y":1.7},{"s":"Fw1 br","x":1.995,"y":-0.2},{"s":"Fw1 br","x":2.01,"y":2.9},{"s":"Fw1 br","x":2.025,"y":1.0},{"s":"Fw1 br","x":2.04,"y":2.2}
 ],
 "p5": [
  {"x":0.33,"y":0.11},{"x":1.4,"y":1.09},{"x":14.8,"y":1.09},{"x":15.3,"y":0.1},{"x":16.1,"y":0},{"x":81.1,"y":0},{"x":81.8,"y":0.1},{"x":82.9,"y":1.09},{"x":96.6,"y":1.09},{"x":96.9,"y":0.8},{"x":97.2,"y":0.11}
 ],
 "p5dot": [{"x":4.2,"y":0.707},{"x":92.7,"y":0.707}],
 "p6": [
  {"s":"Fw1","x":0,"y":1.4},{"s":"Fw1","x":0.005,"y":1.57},{"s":"Fw1","x":0.03,"y":1.57},{"s":"Fw1","x":0.037,"y":2.76},{"s":"Fw1","x":0.045,"y":-1.57},{"s":"Fw1","x":0.075,"y":-1.74},{"s":"Fw1","x":0.093,"y":-1.6},
  {"s":"Fw1","x":0.093,"y":1.57},{"s":"Fw1","x":0.115,"y":1.57},{"s":"Fw1","x":0.122,"y":2.54},{"s":"Fw1","x":0.13,"y":-1.57},{"s":"Fw1","x":0.16,"y":-1.74},{"s":"Fw1","x":0.183,"y":-1.6},
  {"s":"Fw1","x":0.183,"y":1.57},{"s":"Fw1","x":0.2,"y":1.57},{"s":"Fw1","x":0.208,"y":2.25},{"s":"Fw1","x":0.215,"y":-1.57},{"s":"Fw1","x":0.24,"y":-1.7},{"s":"Fw1","x":0.264,"y":-1.6},
  {"s":"Fw1","x":0.264,"y":1.57},{"s":"Fw1","x":0.28,"y":1.57},{"s":"Fw1","x":0.288,"y":1.92},{"s":"Fw1","x":0.295,"y":-1.57},{"s":"Fw1","x":0.347,"y":-1.57},
  {"s":"Fw1","x":0.347,"y":1.57},{"s":"Fw1","x":0.372,"y":1.57},{"s":"Fw1","x":0.379,"y":1.65},{"s":"Fw1","x":0.385,"y":-1.57},{"s":"Fw1","x":0.42,"y":-1.57},
  {"s":"Fw1","x":0.42,"y":1.57},{"s":"Fw1","x":0.452,"y":1.57},{"s":"Fw1","x":0.452,"y":-1.57},{"s":"Fw1","x":0.501,"y":-1.57},
  {"s":"Fw1","x":0.501,"y":1.57},{"s":"Fw1","x":0.533,"y":1.57},{"s":"Fw1","x":0.533,"y":-1.57},{"s":"Fw1","x":0.582,"y":-1.57},
  {"s":"Fw1","x":0.582,"y":1.57},{"s":"Fw1","x":0.611,"y":1.57},{"s":"Fw1","x":0.611,"y":-1.57},{"s":"Fw1","x":0.66,"y":-1.57},
  {"s":"Fw1","x":0.66,"y":1.57},{"s":"Fw1","x":0.692,"y":1.57},{"s":"Fw1","x":0.692,"y":-1.57},{"s":"Fw1","x":0.746,"y":-1.57},
  {"s":"Fw1","x":0.746,"y":1.57},{"s":"Fw1","x":0.777,"y":1.57},{"s":"Fw1","x":0.777,"y":-1.57},{"s":"Fw1","x":0.831,"y":-1.57},
  {"s":"Fw1","x":0.831,"y":1.57},{"s":"Fw1","x":0.856,"y":1.57},{"s":"Fw1","x":0.856,"y":-1.57},{"s":"Fw1","x":0.909,"y":-1.57},
  {"s":"Fw1","x":0.909,"y":1.57},{"s":"Fw1","x":0.941,"y":1.57},{"s":"Fw1","x":0.941,"y":-1.57},{"s":"Fw1","x":0.99,"y":-1.57},
  {"s":"Fw1","x":0.99,"y":1.57},{"s":"Fw1","x":1.027,"y":1.57},{"s":"Fw1","x":1.027,"y":-1.57},{"s":"Fw1","x":1.076,"y":-1.57},
  {"s":"Fw1","x":1.076,"y":1.57},{"s":"Fw1","x":1.144,"y":1.57},{"s":"Fw1","x":1.144,"y":-1.57},{"s":"Fw1","x":1.198,"y":-1.57},
  {"s":"Fw1","x":1.198,"y":1.57},{"s":"Fw1","x":1.234,"y":1.57},{"s":"Fw1","x":1.234,"y":-1.57},{"s":"Fw1","x":1.271,"y":-1.57},
  {"s":"Fw1","x":1.271,"y":1.57},{"s":"Fw1","x":1.308,"y":1.57},{"s":"Fw1","x":1.308,"y":-1.57},{"s":"Fw1","x":1.357,"y":-1.57},
  {"s":"Fw1","x":1.357,"y":1.57},{"s":"Fw1","x":1.393,"y":1.57},{"s":"Fw1","x":1.393,"y":-1.57},{"s":"Fw1","x":1.43,"y":-1.57},
  {"s":"Fw1","x":1.43,"y":1.57},{"s":"Fw1","x":1.467,"y":1.57},{"s":"Fw1","x":1.467,"y":-1.57},{"s":"Fw1","x":1.503,"y":-1.57},
  {"s":"Fw1","x":1.503,"y":1.57},{"s":"Fw1","x":1.54,"y":1.57},{"s":"Fw1","x":1.54,"y":-1.57},{"s":"Fw1","x":1.584,"y":-1.57},
  {"s":"Fw1","x":1.584,"y":1.57},{"s":"Fw1","x":1.613,"y":1.57},{"s":"Fw1","x":1.613,"y":-1.57},{"s":"Fw1","x":1.662,"y":-1.57},
  {"s":"Fw1","x":1.662,"y":1.57},{"s":"Fw1","x":1.699,"y":1.57},{"s":"Fw1","x":1.699,"y":-1.57},{"s":"Fw1","x":1.74,"y":-1.57},
  {"s":"Fw1","x":1.74,"y":1.57},{"s":"Fw1","x":1.772,"y":1.57},{"s":"Fw1","x":1.772,"y":-1.57},{"s":"Fw1","x":1.821,"y":-1.57},
  {"s":"Fw1","x":1.821,"y":1.57},{"s":"Fw1","x":1.858,"y":1.57},{"s":"Fw1","x":1.858,"y":-1.57},{"s":"Fw1","x":1.931,"y":-1.57},
  {"s":"Fw1","x":1.931,"y":1.57},{"s":"Fw1","x":1.98,"y":1.57},{"s":"Fw1","x":1.98,"y":-1.57},{"s":"Fw1","x":2.004,"y":-1.57},
  {"s":"Fw1","x":2.004,"y":1.57},{"s":"Fw1","x":2.04,"y":1.57},{"s":"Fw1","x":2.05,"y":1.5},
  {"s":"Fw1 br","x":0,"y":-1.1},{"s":"Fw1 br","x":0.01,"y":-0.75},{"s":"Fw1 br","x":0.025,"y":-1.2},{"s":"Fw1 br","x":0.04,"y":-1.85},{"s":"Fw1 br","x":0.06,"y":-2.1},{"s":"Fw1 br","x":0.075,"y":-1.9},{"s":"Fw1 br","x":0.09,"y":-2.2},{"s":"Fw1 br","x":0.1,"y":-2.6},{"s":"Fw1 br","x":0.11,"y":-1.6},{"s":"Fw1 br","x":0.12,"y":-2.0},{"s":"Fw1 br","x":0.135,"y":-2.3},{"s":"Fw1 br","x":0.15,"y":-2.8},{"s":"Fw1 br","x":0.16,"y":-2.55},{"s":"Fw1 br","x":0.175,"y":-2.5},{"s":"Fw1 br","x":0.19,"y":-2.6},{"s":"Fw1 br","x":0.21,"y":-2.0},{"s":"Fw1 br","x":0.23,"y":-1.3},{"s":"Fw1 br","x":0.24,"y":-0.6},{"s":"Fw1 br","x":0.26,"y":-0.9},{"s":"Fw1 br","x":0.27,"y":-2.4},{"s":"Fw1 br","x":0.28,"y":-2.6},{"s":"Fw1 br","x":0.29,"y":-1.8},{"s":"Fw1 br","x":0.31,"y":-0.15},{"s":"Fw1 br","x":0.33,"y":-0.6},{"s":"Fw1 br","x":0.35,"y":-1.9},{"s":"Fw1 br","x":0.37,"y":-2.5},{"s":"Fw1 br","x":0.38,"y":-2.6},{"s":"Fw1 br","x":0.4,"y":-1.5},{"s":"Fw1 br","x":0.42,"y":-2.0},{"s":"Fw1 br","x":0.44,"y":-0.3},{"s":"Fw1 br","x":0.455,"y":-0.7},{"s":"Fw1 br","x":0.47,"y":-1.5},{"s":"Fw1 br","x":0.485,"y":-2.9},{"s":"Fw1 br","x":0.49,"y":-2.2},{"s":"Fw1 br","x":0.5,"y":2.35},{"s":"Fw1 br","x":0.505,"y":1.5},{"s":"Fw1 br","x":0.51,"y":0.9},{"s":"Fw1 br","x":0.53,"y":0.0},{"s":"Fw1 br","x":0.55,"y":-0.5},{"s":"Fw1 br","x":0.56,"y":0.6},{"s":"Fw1 br","x":0.58,"y":0.9},{"s":"Fw1 br","x":0.6,"y":-1.0},{"s":"Fw1 br","x":0.62,"y":-1.6},{"s":"Fw1 br","x":0.635,"y":-2.0},{"s":"Fw1 br","x":0.65,"y":-0.4},{"s":"Fw1 br","x":0.67,"y":-1.4},{"s":"Fw1 br","x":0.685,"y":2.0},{"s":"Fw1 br","x":0.69,"y":2.75},{"s":"Fw1 br","x":0.7,"y":1.5},{"s":"Fw1 br","x":0.71,"y":0.6},{"s":"Fw1 br","x":0.73,"y":-2.9},{"s":"Fw1 br","x":0.745,"y":-2.6},{"s":"Fw1 br","x":0.76,"y":0.1},{"s":"Fw1 br","x":0.78,"y":0.5},{"s":"Fw1 br","x":0.8,"y":-1.0},{"s":"Fw1 br","x":0.82,"y":-2.2},{"s":"Fw1 br","x":0.845,"y":1.6},{"s":"Fw1 br","x":0.86,"y":0.4},{"s":"Fw1 br","x":0.88,"y":-0.6},{"s":"Fw1 br","x":0.9,"y":0.7},{"s":"Fw1 br","x":0.92,"y":-0.4},{"s":"Fw1 br","x":0.94,"y":-1.1},{"s":"Fw1 br","x":0.96,"y":-2.0},{"s":"Fw1 br","x":0.975,"y":1.8},{"s":"Fw1 br","x":0.99,"y":0.8},{"s":"Fw1 br","x":1.0,"y":-0.5},{"s":"Fw1 br","x":1.01,"y":-1.4},{"s":"Fw1 br","x":1.03,"y":-1.9},{"s":"Fw1 br","x":1.05,"y":-0.3},{"s":"Fw1 br","x":1.063,"y":2.4},{"s":"Fw1 br","x":1.07,"y":1.5},{"s":"Fw1 br","x":1.08,"y":-0.8},{"s":"Fw1 br","x":1.1,"y":-1.0},{"s":"Fw1 br","x":1.115,"y":-0.3},{"s":"Fw1 br","x":1.135,"y":-1.2},{"s":"Fw1 br","x":1.15,"y":-1.6},{"s":"Fw1 br","x":1.18,"y":-2.4},{"s":"Fw1 br","x":1.198,"y":2.5},{"s":"Fw1 br","x":1.21,"y":1.2},{"s":"Fw1 br","x":1.22,"y":-0.2},{"s":"Fw1 br","x":1.24,"y":-0.3},{"s":"Fw1 br","x":1.27,"y":3.05},{"s":"Fw1 br","x":1.28,"y":1.8},{"s":"Fw1 br","x":1.285,"y":0.5},{"s":"Fw1 br","x":1.3,"y":-1.0},{"s":"Fw1 br","x":1.31,"y":-2.5},{"s":"Fw1 br","x":1.32,"y":-0.8},{"s":"Fw1 br","x":1.33,"y":-0.3},{"s":"Fw1 br","x":1.345,"y":-2.0},{"s":"Fw1 br","x":1.36,"y":-2.9},{"s":"Fw1 br","x":1.38,"y":-0.2},{"s":"Fw1 br","x":1.395,"y":-1.0},{"s":"Fw1 br","x":1.42,"y":-1.3},{"s":"Fw1 br","x":1.44,"y":2.7},{"s":"Fw1 br","x":1.455,"y":1.6},{"s":"Fw1 br","x":1.465,"y":0.4},{"s":"Fw1 br","x":1.47,"y":-2.6},{"s":"Fw1 br","x":1.49,"y":-2.5},{"s":"Fw1 br","x":1.515,"y":1.8},{"s":"Fw1 br","x":1.54,"y":2.3},{"s":"Fw1 br","x":1.565,"y":0.6},{"s":"Fw1 br","x":1.59,"y":-0.9},{"s":"Fw1 br","x":1.61,"y":2.25},{"s":"Fw1 br","x":1.635,"y":0.1},{"s":"Fw1 br","x":1.66,"y":2.0},{"s":"Fw1 br","x":1.675,"y":-0.5},{"s":"Fw1 br","x":1.69,"y":2.85},{"s":"Fw1 br","x":1.7,"y":1.0},{"s":"Fw1 br","x":1.71,"y":-1.8},{"s":"Fw1 br","x":1.715,"y":-3.0},{"s":"Fw1 br","x":1.735,"y":-0.2},{"s":"Fw1 br","x":1.75,"y":0.8},{"s":"Fw1 br","x":1.78,"y":1.8},{"s":"Fw1 br","x":1.8,"y":1.2},{"s":"Fw1 br","x":1.82,"y":2.5},{"s":"Fw1 br","x":1.86,"y":2.3},{"s":"Fw1 br","x":1.885,"y":2.6},{"s":"Fw1 br","x":1.905,"y":2.1},{"s":"Fw1 br","x":1.93,"y":1.9},{"s":"Fw1 br","x":1.95,"y":1.4},{"s":"Fw1 br","x":1.965,"y":1.1},{"s":"Fw1 br","x":1.985,"y":-0.1},{"s":"Fw1 br","x":2.0,"y":-0.9},{"s":"Fw1 br","x":2.01,"y":-1.4},{"s":"Fw1 br","x":2.02,"y":-1.2},{"s":"Fw1 br","x":2.04,"y":-0.6},{"s":"Fw1 br","x":2.05,"y":-0.3}
 ],
 "box3": [{"x":0.9,"y":0},{"x":0.9,"y":27},{"x":1.3,"y":27},{"x":1.3,"y":0},{"x":0.9,"y":0}],
 "box6": [{"x":0.9,"y":-3.8},{"x":0.9,"y":3.8},{"x":1.3,"y":3.8},{"x":1.3,"y":-3.8},{"x":0.9,"y":-3.8}],
 "txt3": [{"x":1.4,"y":25,"t":"zoom"}],
 "txt6": [{"x":1.4,"y":3.45,"t":"zoom"}],
 "ax": [{"x":0,"y":0}]
},
"concat": [
 {
  "width": 300, "height": 365, "title": "Module de Fw1",
  "resolve": {"axis": {"x": "independent", "y": "independent"}},
  "layer": [
   {"data": {"name": "p1"}, "mark": {"type": "line", "clip": true, "strokeJoin": "round"},
    "encoding": {
     "x": {"field": "x", "type": "quantitative", "scale": {"domain": [0, 2.2], "nice": false}, "axis": {"orient": "bottom", "title": "abscisse x", "values": [0, 1, 2], "format": "~f"}},
     "y": {"field": "y", "type": "quantitative", "scale": {"domain": [0, 200], "nice": false}, "axis": {"orient": "left", "title": "N/m", "values": [0, 50, 100, 150, 200], "format": "~f"}},
     "color": {"field": "s", "type": "nominal", "scale": {"domain": ["Fw1", "Fw1 br"], "range": ["#0000ff", "#000000"]}, "legend": {"orient": "none", "legendX": 130.3, "legendY": 13.3, "title": " ", "titleOrient": "right", "titleFontSize": 24, "titlePadding": 8, "strokeColor": "#000", "fillColor": "#fff", "padding": 4, "symbolType": "M-2,0H2", "symbolSize": 420, "labelFontSize": 24, "labelFont": "Liberation Sans", "labelColor": "#000", "rowPadding": 2, "symbolOffset": 17, "labelOffset": 26}},
     "strokeDash": {"field": "s", "type": "nominal", "scale": {"domain": ["Fw1", "Fw1 br"], "range": [[1, 0], [15, 12]]}, "legend": {"orient": "none", "legendX": 130.3, "legendY": 13.3, "title": " ", "titleOrient": "right", "titleFontSize": 24, "titlePadding": 8, "strokeColor": "#000", "fillColor": "#fff", "padding": 4, "symbolType": "M-2,0H2", "symbolSize": 420, "labelFontSize": 24, "labelFont": "Liberation Sans", "labelColor": "#000", "rowPadding": 2, "symbolOffset": 17, "labelOffset": 26}},
     "strokeWidth": {"field": "s", "type": "nominal", "scale": {"domain": ["Fw1", "Fw1 br"], "range": [1.2, 4.5]}, "legend": {"orient": "none", "legendX": 130.3, "legendY": 13.3, "title": " ", "titleOrient": "right", "titleFontSize": 24, "titlePadding": 8, "strokeColor": "#000", "fillColor": "#fff", "padding": 4, "symbolType": "M-2,0H2", "symbolSize": 420, "labelFontSize": 24, "labelFont": "Liberation Sans", "labelColor": "#000", "rowPadding": 2, "symbolOffset": 17, "labelOffset": 26}},
     "order": {"value": null}
    }},
   {"data": {"name": "ax"}, "mark": {"type": "point", "opacity": 0},
    "encoding": {
     "x": {"field": "x", "type": "quantitative", "scale": {"domain": [0, 2.2], "nice": false}, "axis": {"orient": "top", "title": null, "labels": false, "values": [0, 1, 2]}},
     "y": {"field": "y", "type": "quantitative", "scale": {"domain": [0, 200], "nice": false}, "axis": {"orient": "right", "title": null, "labels": false, "values": [0, 50, 100, 150, 200]}}
    }}
  ]
 },
 {
  "width": 300, "height": 365, "title": "Fw1(k)",
  "resolve": {"axis": {"x": "independent", "y": "independent"}},
  "layer": [
   {"data": {"name": "p2"}, "mark": {"type": "line", "clip": true, "strokeJoin": "round"},
    "encoding": {
     "x": {"field": "x", "type": "quantitative", "scale": {"domain": [0, 100], "nice": false}, "axis": {"orient": "bottom", "title": "(1/m)", "values": [0, 50, 100], "format": "~f"}},
     "y": {"field": "y", "type": "quantitative", "scale": {"domain": [-4, 4], "nice": false}, "axis": {"orient": "left", "title": "log10 vs 1 N/m", "values": [-4, -2, 0, 2, 4], "format": "~f"}},
     "color": {"field": "s", "type": "nominal", "scale": {"domain": ["Fw1", "Fw1 br"], "range": ["#0000ff", "#000000"]}, "legend": null},
     "strokeDash": {"field": "s", "type": "nominal", "scale": {"domain": ["Fw1", "Fw1 br"], "range": [[1, 0], [15, 12]]}, "legend": null},
     "strokeWidth": {"field": "s", "type": "nominal", "scale": {"domain": ["Fw1", "Fw1 br"], "range": [1.2, 4.5]}, "legend": null},
     "order": {"value": null}
    }},
   {"data": {"name": "ax"}, "mark": {"type": "point", "opacity": 0},
    "encoding": {
     "x": {"field": "x", "type": "quantitative", "scale": {"domain": [0, 100], "nice": false}, "axis": {"orient": "top", "title": null, "labels": false, "values": [0, 50, 100]}},
     "y": {"field": "y", "type": "quantitative", "scale": {"domain": [-4, 4], "nice": false}, "axis": {"orient": "right", "title": null, "labels": false, "values": [-4, -2, 0, 2, 4]}}
    }}
  ]
 },
 {
  "width": 300, "height": 365, "title": "Module : fenêtré, filtré",
  "resolve": {"axis": {"x": "independent", "y": "independent"}},
  "layer": [
   {"data": {"name": "p3"}, "mark": {"type": "line", "clip": true, "strokeJoin": "round"},
    "encoding": {
     "x": {"field": "x", "type": "quantitative", "scale": {"domain": [0, 2.2], "nice": false}, "axis": {"orient": "bottom", "title": "abscisse x", "values": [0, 1, 2], "format": "~f"}},
     "y": {"field": "y", "type": "quantitative", "scale": {"domain": [0, 30], "nice": false}, "axis": {"orient": "left", "title": "N/m", "values": [0, 5, 10, 15, 20, 25, 30], "format": "~f"}},
     "color": {"field": "s", "type": "nominal", "scale": {"domain": ["Fw1", "Fw1 br"], "range": ["#0000ff", "#000000"]}, "legend": null},
     "strokeDash": {"field": "s", "type": "nominal", "scale": {"domain": ["Fw1", "Fw1 br"], "range": [[1, 0], [15, 12]]}, "legend": null},
     "strokeWidth": {"field": "s", "type": "nominal", "scale": {"domain": ["Fw1", "Fw1 br"], "range": [1.2, 4.5]}, "legend": null},
     "order": {"value": null}
    }},
   {"data": {"name": "box3"}, "mark": {"type": "line", "clip": true, "color": "#000", "strokeWidth": 4.5, "strokeDash": [15, 10, 2, 10]},
    "encoding": {
     "x": {"field": "x", "type": "quantitative", "scale": {"domain": [0, 2.2], "nice": false}, "axis": null},
     "y": {"field": "y", "type": "quantitative", "scale": {"domain": [0, 30], "nice": false}, "axis": null},
     "order": {"value": null}
    }},
   {"data": {"name": "txt3"}, "mark": {"type": "text", "align": "left", "baseline": "middle", "fontSize": 24, "font": "Liberation Sans", "color": "#000"},
    "encoding": {
     "x": {"field": "x", "type": "quantitative", "scale": {"domain": [0, 2.2], "nice": false}, "axis": null},
     "y": {"field": "y", "type": "quantitative", "scale": {"domain": [0, 30], "nice": false}, "axis": null},
     "text": {"field": "t"}
    }},
   {"data": {"name": "ax"}, "mark": {"type": "point", "opacity": 0},
    "encoding": {
     "x": {"field": "x", "type": "quantitative", "scale": {"domain": [0, 2.2], "nice": false}, "axis": {"orient": "top", "title": null, "labels": false, "values": [0, 1, 2]}},
     "y": {"field": "y", "type": "quantitative", "scale": {"domain": [0, 30], "nice": false}, "axis": {"orient": "right", "title": null, "labels": false, "values": [0, 5, 10, 15, 20, 25, 30]}}
    }}
  ]
 },
 {
  "width": 300, "height": 364, "title": "Phase de Fw1",
  "resolve": {"axis": {"x": "independent", "y": "independent"}},
  "layer": [
   {"data": {"name": "p4"}, "mark": {"type": "line", "clip": true, "strokeJoin": "round"},
    "encoding": {
     "x": {"field": "x", "type": "quantitative", "scale": {"domain": [0, 2.2], "nice": false}, "axis": {"orient": "bottom", "title": null, "values": [0, 1, 2], "format": "~f"}},
     "y": {"field": "y", "type": "quantitative", "scale": {"domain": [-4, 4], "nice": false}, "axis": {"orient": "left", "title": "rad", "values": [-4, -2, 0, 2, 4], "format": "~f"}},
     "color": {"field": "s", "type": "nominal", "scale": {"domain": ["Fw1", "Fw1 br"], "range": ["#0000ff", "#000000"]}, "legend": {"orient": "none", "legendX": 130.3, "legendY": 291.3, "title": " ", "titleOrient": "right", "titleFontSize": 24, "titlePadding": 8, "strokeColor": "#000", "fillColor": "#fff", "padding": 4, "symbolType": "M-2,0H2", "symbolSize": 420, "labelFontSize": 24, "labelFont": "Liberation Sans", "labelColor": "#000", "rowPadding": 2, "symbolOffset": 17, "labelOffset": 26}},
     "strokeDash": {"field": "s", "type": "nominal", "scale": {"domain": ["Fw1", "Fw1 br"], "range": [[1, 0], [15, 12]]}, "legend": {"orient": "none", "legendX": 130.3, "legendY": 291.3, "title": " ", "titleOrient": "right", "titleFontSize": 24, "titlePadding": 8, "strokeColor": "#000", "fillColor": "#fff", "padding": 4, "symbolType": "M-2,0H2", "symbolSize": 420, "labelFontSize": 24, "labelFont": "Liberation Sans", "labelColor": "#000", "rowPadding": 2, "symbolOffset": 17, "labelOffset": 26}},
     "strokeWidth": {"field": "s", "type": "nominal", "scale": {"domain": ["Fw1", "Fw1 br"], "range": [1.2, 4.5]}, "legend": {"orient": "none", "legendX": 130.3, "legendY": 291.3, "title": " ", "titleOrient": "right", "titleFontSize": 24, "titlePadding": 8, "strokeColor": "#000", "fillColor": "#fff", "padding": 4, "symbolType": "M-2,0H2", "symbolSize": 420, "labelFontSize": 24, "labelFont": "Liberation Sans", "labelColor": "#000", "rowPadding": 2, "symbolOffset": 17, "labelOffset": 26}},
     "order": {"value": null}
    }},
   {"data": {"name": "ax"}, "mark": {"type": "point", "opacity": 0},
    "encoding": {
     "x": {"field": "x", "type": "quantitative", "scale": {"domain": [0, 2.2], "nice": false}, "axis": {"orient": "top", "title": null, "labels": false, "values": [0, 1, 2]}},
     "y": {"field": "y", "type": "quantitative", "scale": {"domain": [-4, 4], "nice": false}, "axis": {"orient": "right", "title": null, "labels": false, "values": [-4, -2, 0, 2, 4]}}
    }}
  ]
 },
 {
  "width": 300, "height": 364, "title": "filtre μ.ζ(k)",
  "resolve": {"axis": {"x": "independent", "y": "independent"}},
  "layer": [
   {"data": {"name": "p5"}, "mark": {"type": "line", "clip": true, "color": "#0000ff", "strokeWidth": 4.5, "strokeJoin": "round"},
    "encoding": {
     "x": {"field": "x", "type": "quantitative", "scale": {"domain": [0, 100], "nice": false}, "axis": {"orient": "bottom", "title": null, "values": [0, 50, 100], "format": "~f"}},
     "y": {"field": "y", "type": "quantitative", "scale": {"domain": [0, 1.4], "nice": false}, "axis": {"orient": "left", "title": null, "values": [0, 0.2, 0.4, 0.6, 0.8, 1, 1.2, 1.4], "format": "~f"}},
     "order": {"value": null}
    }},
   {"data": {"name": "p5dot"}, "mark": {"type": "line", "clip": true, "color": "#0000ff", "strokeWidth": 4, "strokeDash": [1.5, 9.5]},
    "encoding": {
     "x": {"field": "x", "type": "quantitative", "scale": {"domain": [0, 100], "nice": false}, "axis": null},
     "y": {"field": "y", "type": "quantitative", "scale": {"domain": [0, 1.4], "nice": false}, "axis": null}
    }},
   {"data": {"name": "ax"}, "mark": {"type": "point", "opacity": 0},
    "encoding": {
     "x": {"field": "x", "type": "quantitative", "scale": {"domain": [0, 100], "nice": false}, "axis": {"orient": "top", "title": null, "labels": false, "values": [0, 50, 100]}},
     "y": {"field": "y", "type": "quantitative", "scale": {"domain": [0, 1.4], "nice": false}, "axis": {"orient": "right", "title": null, "labels": false, "values": [0, 0.2, 0.4, 0.6, 0.8, 1, 1.2, 1.4]}}
    }}
  ]
 },
 {
  "width": 300, "height": 364, "title": "Phase : fenêtré, filtré",
  "resolve": {"axis": {"x": "independent", "y": "independent"}},
  "layer": [
   {"data": {"name": "p6"}, "mark": {"type": "line", "clip": true, "strokeJoin": "round"},
    "encoding": {
     "x": {"field": "x", "type": "quantitative", "scale": {"domain": [0, 2.2], "nice": false}, "axis": {"orient": "bottom", "title": null, "values": [0, 1, 2], "format": "~f"}},
     "y": {"field": "y", "type": "quantitative", "scale": {"domain": [-4, 4], "nice": false}, "axis": {"orient": "left", "title": "rad", "values": [-4, -2, 0, 2, 4], "format": "~f"}},
     "color": {"field": "s", "type": "nominal", "scale": {"domain": ["Fw1", "Fw1 br"], "range": ["#0000ff", "#000000"]}, "legend": null},
     "strokeDash": {"field": "s", "type": "nominal", "scale": {"domain": ["Fw1", "Fw1 br"], "range": [[1, 0], [15, 12]]}, "legend": null},
     "strokeWidth": {"field": "s", "type": "nominal", "scale": {"domain": ["Fw1", "Fw1 br"], "range": [1.2, 4.5]}, "legend": null},
     "order": {"value": null}
    }},
   {"data": {"name": "box6"}, "mark": {"type": "line", "clip": true, "color": "#000", "strokeWidth": 4.5, "strokeDash": [15, 10, 2, 10]},
    "encoding": {
     "x": {"field": "x", "type": "quantitative", "scale": {"domain": [0, 2.2], "nice": false}, "axis": null},
     "y": {"field": "y", "type": "quantitative", "scale": {"domain": [-4, 4], "nice": false}, "axis": null},
     "order": {"value": null}
    }},
   {"data": {"name": "txt6"}, "mark": {"type": "text", "align": "left", "baseline": "middle", "fontSize": 24, "font": "Liberation Sans", "color": "#000"},
    "encoding": {
     "x": {"field": "x", "type": "quantitative", "scale": {"domain": [0, 2.2], "nice": false}, "axis": null},
     "y": {"field": "y", "type": "quantitative", "scale": {"domain": [-4, 4], "nice": false}, "axis": null},
     "text": {"field": "t"}
    }},
   {"data": {"name": "ax"}, "mark": {"type": "point", "opacity": 0},
    "encoding": {
     "x": {"field": "x", "type": "quantitative", "scale": {"domain": [0, 2.2], "nice": false}, "axis": {"orient": "top", "title": null, "labels": false, "values": [0, 1, 2]}},
     "y": {"field": "y", "type": "quantitative", "scale": {"domain": [-4, 4], "nice": false}, "axis": {"orient": "right", "title": null, "labels": false, "values": [-4, -2, 0, 2, 4]}}
    }}
  ]
 }
]
}
